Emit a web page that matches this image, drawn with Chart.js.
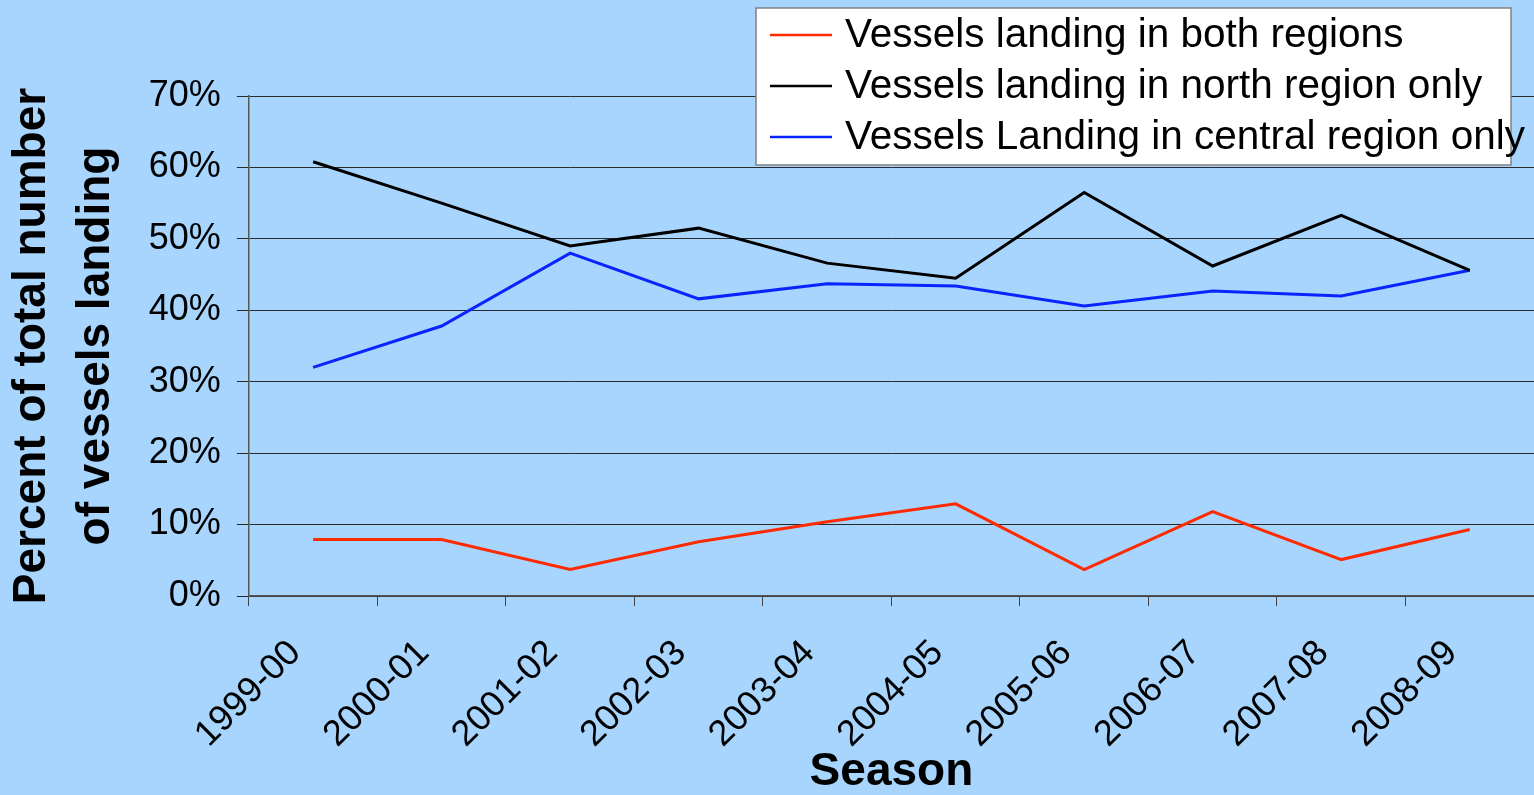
<!DOCTYPE html>
<html lang="en">
<head>
    <meta charset="UTF-8">
    <title>Vessels landing by region</title>
    <script src="https://cdn.jsdelivr.net/npm/chart.js"></script>
    <style>
        body { margin: 0; background: #a7d5fe; }
        #wrap { width: 1534px; height: 795px; position: relative; }
    </style>
</head>
<body>
    <div id="wrap"><canvas id="myChart"></canvas></div>

    <script>
        // seasons along the x axis
        const seasons = ['1999-00', '2000-01', '2001-02', '2002-03', '2003-04',
                         '2004-05', '2005-06', '2006-07', '2007-08', '2008-09'];

        // percent of total number of vessels landing
        const bothRegions  = [7.9, 7.9, 3.7, 7.6, 10.4, 12.9, 3.7, 11.8, 5.1, 9.3];
        const northOnly    = [60.8, 55.0, 49.0, 51.5, 46.6, 44.5, 56.5, 46.2, 53.3, 45.6];
        const centralOnly  = [32.0, 37.8, 48.0, 41.6, 43.7, 43.4, 40.6, 42.7, 42.0, 45.6];

        const seriesNames = ['Vessels landing in both regions',
                             'Vessels landing in north region only',
                             'Vessels Landing in central region only'];

        const yTicks = [0, 10, 20, 30, 40, 50, 60, 70];

        const FONT = '"Liberation Sans", Arial, sans-serif';

        // legend box sits on top of the plot, like the original
        const legendBox = {
            id: 'legendBox',
            afterDraw(chart) {
                const ctx = chart.ctx;
                const x = 756, y = 8, w = 755, h = 157;
                ctx.save();
                ctx.fillStyle = '#ffffff';
                ctx.fillRect(x, y, w, h);
                ctx.strokeStyle = '#808080';
                ctx.lineWidth = 1.5;
                ctx.strokeRect(x, y, w, h);
                ctx.font = '40.5px ' + FONT;
                ctx.textBaseline = 'middle';
                chart.data.datasets.forEach((ds, i) => {
                    const cy = y + 27 + i * 51;
                    ctx.strokeStyle = ds.borderColor;
                    ctx.lineWidth = 2.5;
                    ctx.beginPath();
                    ctx.moveTo(x + 14, cy);
                    ctx.lineTo(x + 76, cy);
                    ctx.stroke();
                    ctx.fillStyle = '#000';
                    ctx.fillText(ds.label, x + 89, cy + 1);
                });
                ctx.restore();
            }
        };

        const ctx = document.getElementById('myChart').getContext('2d');

        const myChart = new Chart(ctx, {
            type: 'line',
            data: {
                labels: seasons,
                datasets: [
                    { label: seriesNames[0], data: bothRegions, borderColor: '#ff2a00', borderWidth: 3 },
                    { label: seriesNames[1], data: northOnly, borderColor: '#000000', borderWidth: 3 },
                    { label: seriesNames[2], data: centralOnly, borderColor: '#0a24ff', borderWidth: 3 }
                ].map(d => Object.assign(d, { fill: false, tension: 0, pointRadius: 0 }))
            },
            options: {
                responsive: true,
                maintainAspectRatio: false,
                animation: false,
                layout: { padding: { top: 96, right: 0, left: 0, bottom: 0 } },
                plugins: {
                    legend: { display: false },
                    tooltip: { enabled: false }
                },
                scales: {
                    x: {
                        offset: true,
                        afterFit: scale => { scale.height = 199; },
                        grid: { offset: true, drawOnChartArea: false, drawTicks: true, tickLength: 10, color: '#444' },
                        border: { color: '#555', width: 1.5 },
                        ticks: {
                            minRotation: 45, maxRotation: 45,
                            color: '#000',
                            font: { family: FONT, size: 36 },
                            padding: 26,
                            labelOffset: -18
                        },
                        title: {
                            display: true, text: 'Season', color: '#000',
                            font: { family: FONT, size: 46, weight: 'bold', lineHeight: 1.0 },
                            padding: { top: 0, bottom: 0 }
                        }
                    },
                    y: {
                        min: 0, max: 70,
                        afterBuildTicks: axis => { axis.ticks = yTicks.map(v => ({ value: v })); },
                        grid: { color: '#2a2a2a', lineWidth: 1, tickLength: 12 },
                        border: { color: '#555', width: 1.5 },
                        ticks: {
                            color: '#000',
                            font: { family: FONT, size: 36 },
                            padding: 16,
                            callback: v => v + '%'
                        },
                        title: {
                            display: true, text: ['Percent of total number', 'of vessels landing'], color: '#000',
                            font: { family: FONT, size: 46, weight: 'bold', lineHeight: 1.4 },
                            padding: { top: 0, bottom: 4 }
                        }
                    }
                }
            },
            plugins: [legendBox]
        });
    </script>
</body>
</html>
